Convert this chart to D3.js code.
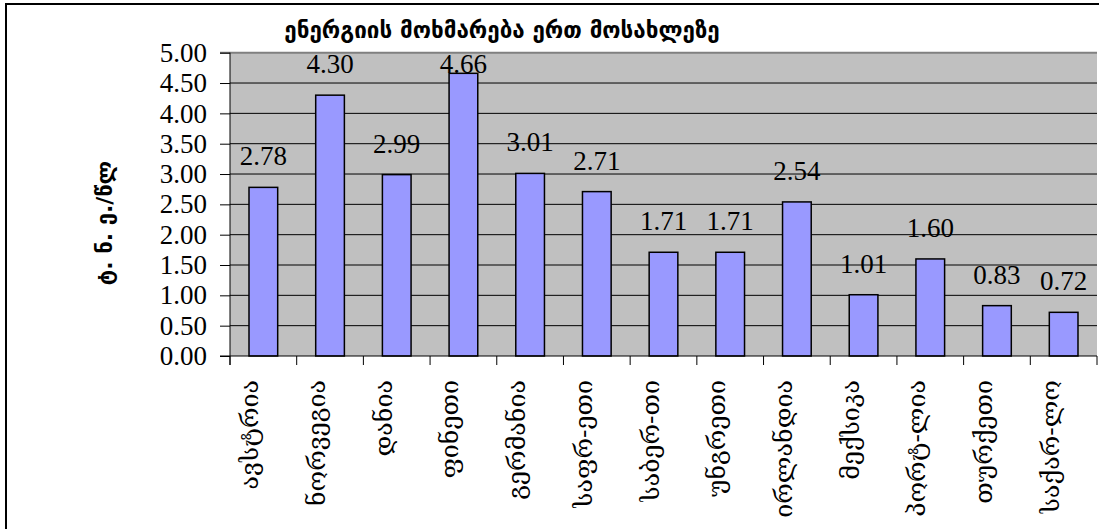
<!DOCTYPE html>
<html>
<head>
<meta charset="utf-8">
<script src="https://cdn.jsdelivr.net/npm/d3@7"></script>
<style>
  body { margin: 0; background: #fff; }
</style>
</head>
<body>
<div id="chart"></div>
<script>
// data
const countries = ["ავსტრია", "ნორვეგია", "დანია", "ფინეთი", "გერმანია", "საფრ-ეთი", "საბერ-თი",
    "უნგრეთი", "ირლანდია", "მექსიკა", "პორტ-ლია", "თურქეთი", "საქარ-ლო"];
const consumption = [2.78, 4.30, 2.99, 4.66, 3.01, 2.71, 1.71, 1.71, 2.54, 1.01, 1.60, 0.83, 0.72];
const yTicks = [0, 0.5, 1, 1.5, 2, 2.5, 3, 3.5, 4, 4.5, 5];
const chartTitle = "ენერგიის მოხმარება ერთ მოსახლეზე";
const yTitle = "ტ. ნ. ე./წლ";

const W = 1099, H = 529;
const plot = { left: 230, right: 1097, top: 52.7, bottom: 356 };

const svg = d3.select("#chart")
    .append("svg")
    .attr("width", W)
    .attr("height", H)
    .style("display", "block");

svg.append("rect").attr("width", W).attr("height", H).attr("fill", "#fff");

// outer frame (right/bottom edges fall outside the picture)
svg.append("rect")
    .attr("x", 6).attr("y", 4)
    .attr("width", W + 10).attr("height", H + 10)
    .attr("fill", "none")
    .attr("stroke", "#000")
    .attr("stroke-width", 2);

const x = d3.scaleBand().domain(countries).range([plot.left, plot.right]).padding(0);
const y = d3.scaleLinear().domain([0, 5]).range([plot.bottom, plot.top]);

// plot background
svg.append("rect")
    .attr("x", plot.left).attr("y", plot.top)
    .attr("width", plot.right - plot.left).attr("height", plot.bottom - plot.top)
    .attr("fill", "#c0c0c0");

// gridlines
svg.selectAll(".grid")
    .data(yTicks.filter(d => d > 0 && d < 5))
    .enter()
    .append("line")
    .attr("x1", plot.left).attr("x2", plot.right)
    .attr("y1", d => y(d)).attr("y2", d => y(d))
    .attr("stroke", "#000")
    .attr("stroke-width", 1);

svg.append("line")
    .attr("x1", plot.left - 10).attr("x2", plot.right)
    .attr("y1", y(5)).attr("y2", y(5))
    .attr("stroke", "#808080")
    .attr("stroke-width", 2);

// bars
const barW = x.bandwidth() * 0.43;
svg.selectAll(".bar")
    .data(consumption)
    .enter()
    .append("rect")
    .attr("class", "bar")
    .attr("x", (d, i) => x(countries[i]) + (x.bandwidth() - barW) / 2)
    .attr("y", d => y(d))
    .attr("width", barW)
    .attr("height", d => y(0) - y(d))
    .attr("fill", "#9999ff")
    .attr("stroke", "#000")
    .attr("stroke-width", 1.5);

// value labels (kept inside the plot like the original)
svg.selectAll(".val")
    .data(consumption)
    .enter()
    .append("text")
    .attr("x", (d, i) => x(countries[i]) + x.bandwidth() / 2)
    .attr("y", d => Math.max(y(d) - 22, plot.top + 20))
    .attr("text-anchor", "middle")
    .style("font-family", "'Liberation Serif', serif")
    .style("font-size", "27px")
    .attr("fill", "#000")
    .text(d => d.toFixed(2));

// y axis
const yAxis = svg.append("g")
    .attr("transform", `translate(${plot.left},0)`)
    .call(d3.axisLeft(y).tickValues(yTicks).tickFormat(d3.format(".2f")).tickSize(10).tickPadding(13));
yAxis.select(".domain").remove();
yAxis.selectAll("line").attr("stroke", "#000");
yAxis.selectAll("text")
    .style("font-family", "'Liberation Serif', serif")
    .style("font-size", "27px")
    .attr("fill", "#000");
svg.append("line")
    .attr("x1", plot.left).attr("x2", plot.left)
    .attr("y1", plot.top).attr("y2", plot.bottom + 9)
    .attr("stroke", "#000");

// x axis, labels read bottom to top
const xAxis = svg.append("g")
    .attr("transform", `translate(0,${plot.bottom})`)
    .call(d3.axisBottom(x).tickSize(0));
xAxis.select(".domain").remove();
xAxis.selectAll("text")
    .attr("transform", "rotate(-90)")
    .attr("x", -24)
    .attr("y", 0)
    .attr("dy", "-0.2em")
    .attr("text-anchor", "end")
    .style("font-family", "'DejaVu Serif', serif")
    .style("font-size", "25px")
    .attr("fill", "#000");

svg.append("line")
    .attr("x1", plot.left - 10).attr("x2", plot.right)
    .attr("y1", plot.bottom).attr("y2", plot.bottom)
    .attr("stroke", "#000");

svg.selectAll(".xtick")
    .data(countries.map(d => x(d)).concat([plot.right]))
    .enter()
    .append("line")
    .attr("x1", d => d).attr("x2", d => d)
    .attr("y1", plot.bottom).attr("y2", plot.bottom + 9)
    .attr("stroke", "#000");

// titles
svg.append("text")
    .attr("x", 502)
    .attr("y", 38)
    .attr("text-anchor", "middle")
    .style("font-family", "'DejaVu Sans', sans-serif")
    .style("font-weight", "bold")
    .style("font-size", "22.4px")
    .text(chartTitle);

svg.append("text")
    .attr("transform", "translate(112,223) rotate(-90)")
    .attr("text-anchor", "middle")
    .style("font-family", "'DejaVu Sans', sans-serif")
    .style("font-weight", "bold")
    .style("font-size", "22px")
    .text(yTitle);
</script>
</body>
</html>
